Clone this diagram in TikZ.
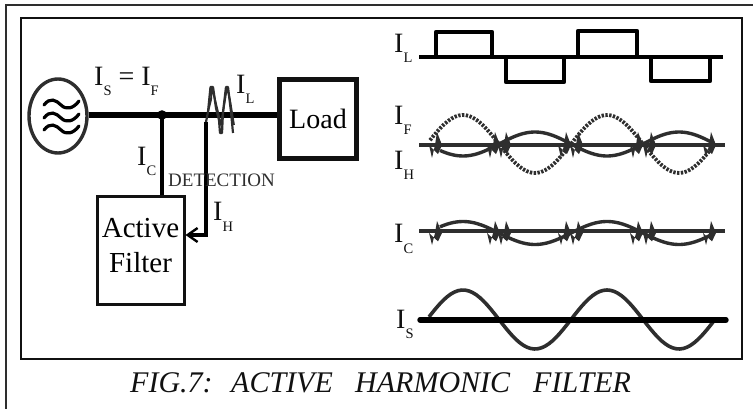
\documentclass[tikz,border=0pt]{standalone}
\usepackage{fontspec}
\setmainfont{Liberation Serif}
\usetikzlibrary{arrows.meta,shapes.geometric}
\newcommand{\bigfont}{\fontsize{28}{30}\selectfont}
\newcommand{\subcur}[1]{\raisebox{-10pt}{\fontsize{14.5}{15}\selectfont #1}}
\definecolor{wave}{HTML}{2E2E2E}
\definecolor{ink}{HTML}{111111}
\tikzset{
  frame/.style={draw=ink,line width=2pt},
  outerline/.style={draw=wave,line width=2.4pt},
  box/.style={draw=ink,rectangle,inner sep=0pt,align=center,font=\bigfont},
  lab/.style={inner sep=0pt,anchor=base west,font=\bigfont,text=ink},
  capt/.style={inner sep=0pt,anchor=base west,font=\itshape\fontsize{30}{31}\selectfont,text=ink},
  bus/.style={draw=black,line width=5.4pt},
  wire/.style={draw=black,line width=3.2pt},
  sq/.style={draw=black,line width=4.6pt,line join=round},
  thinbase/.style={draw=wave,line width=3.2pt},
  sine/.style={draw=wave,line width=3.6pt},
  dots/.style={draw=wave,line width=3.8pt,dash pattern=on 2.4pt off 1.4pt},
}
\newcommand{\spikes}[2]{% y, height
  \foreach \sx in {436,494,505,565,577,637,650,710}{
    \fill[wave] (\sx-7,#1) -- (\sx-4,#1+#2) -- (\sx-1,#1) -- (\sx+1,#1-#2) -- (\sx+6,#1) -- (\sx+2,#1+#2*0.7) -- cycle;
  }
}
\begin{document}
\begin{tikzpicture}[x=1pt,y=-1pt]
\useasboundingbox (0,0) rectangle (753,409);
% frames
\coordinate (oa) at (6,409); \coordinate (ob) at (6,5); \coordinate (oc) at (753,5);
\draw[outerline] (oa) -- (ob) -- (oc);
\draw[frame] (21,18.5) rectangle (741.5,358.5);
% nodes
\node[draw=wave,line width=3.4pt,ellipse,minimum width=58pt,minimum height=74pt,inner sep=0pt] (src) at (58,116) {};
\node[box,line width=5pt,minimum width=77pt,minimum height=79pt] (load) at (318,119) {Load};
\node[box,line width=3pt,minimum width=87pt,minimum height=107pt,font=\fontsize{29}{35}\selectfont] (af) at (140.5,250.5) {Active\\Filter\rule[-10pt]{0pt}{1pt}};
\coordinate (j) at (162,115);
\coordinate (tap) at (206,122);
\coordinate (corner) at (206,235);
% ripples
\foreach \ry in {105,118,130}{
  \draw[black,line width=3.2pt,line cap=round] (44,\ry) .. controls (50,\ry-8) and (56,\ry-5) .. (61,\ry) .. controls (66,\ry+5) and (73,\ry+4) .. (79,\ry-4);
}
% bus
\draw[bus] (j -| src.east) -- (j) -- (j -| load.west);
\fill[black] (j) circle (4.8pt);
\draw[wire] (j) -- (j |- af.north);
\draw[wire,-{Straight Barb[length=10pt,width=14pt,line width=2.4pt]}] (tap) -- (corner) -- (corner -| af.east);
% distorted current
\draw[wave,line width=2.2pt,line join=round] (206,122) -- (208,112) -- (210.5,87) -- (213,87) -- (216,108) -- (219,120) -- (220,133) -- (222,133) -- (223,112) -- (226,87) -- (228,87) -- (231,112) -- (233,133);
\draw[wave,line width=1.8pt,line join=round] (208,112) -- (211,100) -- (212,87) -- (218,112) -- (221,125) -- (225,100) -- (227,87) -- (230,100) -- (234,125);
% labels on the circuit
\node[lab] (lis) at (94,86) {I\subcur{S} = I\subcur{F}};
\node[lab] (lil) at (236,94) {I\subcur{L}};
\node[lab] (lic) at (137,166) {I\subcur{C}};
\node[lab] (lih) at (213,221) {I\subcur{H}};
\node[inner sep=0pt,anchor=base west,text=wave,font=\fontsize{19}{20}\selectfont] (det) at (168,186) {DETECTION};
% IL wave
\coordinate (la) at (419,57); \coordinate (lb) at (723,57);
\draw[sq] (la) -- (lb);
\draw[sq] (436,57) -- (436,32) -- (492,32) -- (492,57);
\draw[sq] (506,57) -- (506,82) -- (564,82) -- (564,57);
\draw[sq] (578,57) -- (578,31) -- (637,31) -- (637,57);
\draw[sq] (651,57) -- (651,81) -- (710,81) -- (710,57);
\node[lab] (r1) at (394,53) {I\subcur{L}};
% IF / IH
\coordinate (fa) at (419,145); \coordinate (fb) at (725,145);
\draw[dots] plot[domain=430:712,samples=80] (\x,{144-29*sin((\x-427)*2.5)});
\draw[wave,line width=3.4pt] plot[domain=440:712,samples=80] (\x,{144+12*sin((\x-427)*2.5)});
\draw[thinbase,line width=3.6pt] (fa) -- (fb);
\spikes{145}{13}
\node[lab] (r2) at (394,125) {I\subcur{F}};
\node[lab] (r3) at (394,170) {I\subcur{H}};
% IC
\coordinate (ca) at (419,231); \coordinate (cb) at (725,231);
\draw[wave,line width=3.4pt] plot[domain=440:712,samples=80] (\x,{233-11.5*sin((\x-427)*2.5)});
\draw[thinbase] (ca) -- (cb);
\spikes{233}{12}
\node[lab] (r4) at (394,243) {I\subcur{C}};
% IS
\coordinate (sa) at (420,320); \coordinate (sb) at (726,320);
\draw[sine] plot[domain=429:716,samples=80] (\x,{319.5-29.5*sin((\x-427)*2.5)});
\draw[bus,line cap=round] (sa) -- (sb);
\node[lab] (r5) at (396,328) {I\subcur{S}};
% caption
\node[capt] (c1) at (130,392) {FIG.7:};
\node[capt] (c2) at (231,392) {ACTIVE};
\node[capt] (c3) at (355,392) {HARMONIC};
\node[capt] (c4) at (533,392) {FILTER};
\end{tikzpicture}
\end{document}
